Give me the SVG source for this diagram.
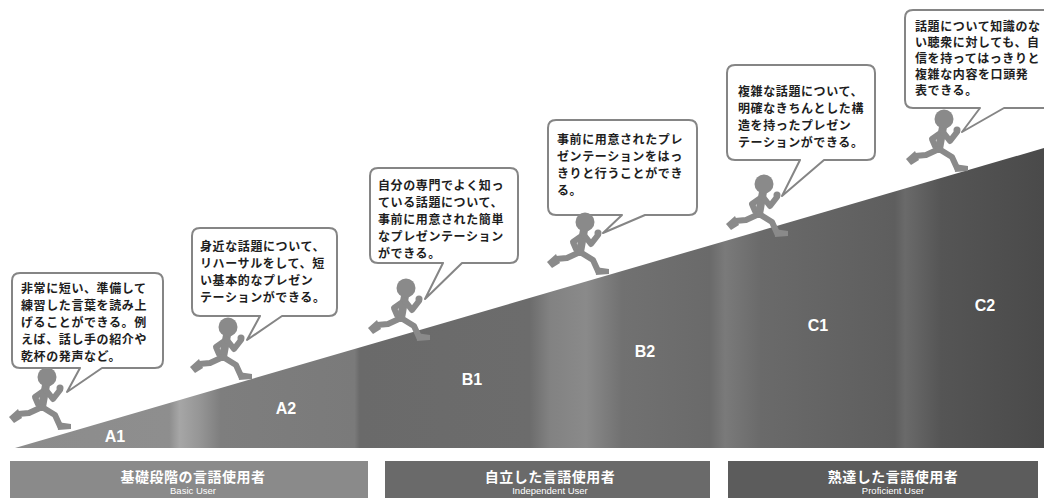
<svg xmlns="http://www.w3.org/2000/svg" xmlns:xlink="http://www.w3.org/1999/xlink" width="1044" height="498" viewBox="0 0 1044 498">
  <style>
    .bubble { fill: #ffffff; stroke: #858585; stroke-width: 2; stroke-linejoin: round; }
    .btxt { font-family: "Noto Sans CJK JP", "Noto Sans CJK SC", sans-serif; font-weight: bold; font-size: 12px; letter-spacing: 0.6px; fill: #1e1e1e; }
    .lvl { font-family: "Liberation Sans", Arial, sans-serif; font-weight: bold; font-size: 16px; fill: #ffffff; text-anchor: middle; }
    .barjp { font-family: "Noto Sans CJK JP", "Noto Sans CJK SC", sans-serif; font-weight: bold; font-size: 14px; fill: #ffffff; text-anchor: middle; letter-spacing: 0.5px; }
    .baren { font-family: "Liberation Sans", Arial, sans-serif; font-size: 9.5px; fill: #ffffff; text-anchor: middle; }
    .limb { fill: none; stroke: #8a8a8a; stroke-width: 6; stroke-linecap: round; stroke-linejoin: round; }
    .body { fill: #8a8a8a; }
  </style>
  <defs>
    <linearGradient id="rampFill" gradientUnits="userSpaceOnUse" x1="15" y1="0" x2="1044" y2="0">
      <stop offset="0" stop-color="#8c8c8c"/>
      <stop offset="0.15" stop-color="#8e8e8e"/>
      <stop offset="0.16" stop-color="#a6a6a6"/>
      <stop offset="0.18" stop-color="#959595"/>
      <stop offset="0.20" stop-color="#7e7e7e"/>
      <stop offset="0.33" stop-color="#7a7a7a"/>
      <stop offset="0.335" stop-color="#6a6a6a"/>
      <stop offset="0.50" stop-color="#6c6c6c"/>
      <stop offset="0.52" stop-color="#828282"/>
      <stop offset="0.555" stop-color="#8a8a8a"/>
      <stop offset="0.59" stop-color="#717171"/>
      <stop offset="0.675" stop-color="#6a6a6a"/>
      <stop offset="0.69" stop-color="#7a7a7a"/>
      <stop offset="0.725" stop-color="#6a6a6a"/>
      <stop offset="0.855" stop-color="#5e5e5e"/>
      <stop offset="0.865" stop-color="#6a6a6a"/>
      <stop offset="0.90" stop-color="#555555"/>
      <stop offset="1" stop-color="#4a4a4a"/>
    </linearGradient>
    <!-- running figure, origin at the centre of the head -->
    <g id="runner">
      <path class="limb" d="M-2,13 L-12,20 L-9,27"/>
      <path class="limb" d="M-5,30 L-18,36 L-29,37"/>
      <path class="body" d="M-29,32 L-38,40 L-33,46 L-25,41 Z"/>
      <path class="limb" style="stroke-width:8" d="M-1,8 L-5,30"/>
      <path class="limb" d="M-5,30 L8,38 L13,49"/>
      <path class="body" d="M10,45 L24,47 L24,52 L11,53 Z"/>
      <path class="limb" d="M-1,13 L6,22 L13,13"/>
      <circle class="body" cx="13" cy="11" r="3.5"/>
      <circle class="body" cx="0" cy="0" r="9.5"/>
    </g>
  </defs>

  <!-- rising slope with the six levels -->
  <g id="ramp">
    <polygon points="15,448 1044,148 1044,448" fill="url(#rampFill)"/>
    <text class="lvl" x="115" y="442">A1</text>
    <text class="lvl" x="286" y="414">A2</text>
    <text class="lvl" x="472" y="385">B1</text>
    <text class="lvl" x="645" y="357">B2</text>
    <text class="lvl" x="818" y="331">C1</text>
    <text class="lvl" x="985" y="311">C2</text>
  </g>

  <!-- user groups along the bottom -->
  <g id="bar-basic">
    <rect x="10" y="461" width="358" height="37" fill="#8a8a8a"/>
    <text class="barjp" x="193" y="482">基礎段階の言語使用者</text>
    <text class="baren" x="193" y="494">Basic User</text>
  </g>
  <g id="bar-independent">
    <rect x="385" y="461" width="325" height="37" fill="#6a6a6a"/>
    <text class="barjp" x="550" y="482">自立した言語使用者</text>
    <text class="baren" x="550" y="494">Independent User</text>
  </g>
  <g id="bar-proficient">
    <rect x="728" y="461" width="310" height="37" fill="#5c5c5c"/>
    <text class="barjp" x="893" y="482">熟達した言語使用者</text>
    <text class="baren" x="893" y="494">Proficient User</text>
  </g>

  <!-- speech bubble tails are part of each bubble outline -->
  <g id="connectors"></g>

  <g id="node-a1">
    <path class="bubble" d="M20,273 H155 Q163,273 163,281 V360 Q163,368 155,368 H102 L67,392 L80,368 H20 Q12,368 12,360 V281 Q12,273 20,273 Z"/>
    <text class="btxt">
      <tspan x="21" y="293">非常に短い、準備して</tspan>
      <tspan x="21" y="310">練習した言葉を読み上</tspan>
      <tspan x="21" y="327">げることができる。例</tspan>
      <tspan x="21" y="344">えば、話し手の紹介や</tspan>
      <tspan x="21" y="361">乾杯の発声など。</tspan>
    </text>
    <use xlink:href="#runner" href="#runner" x="47" y="377"/>
  </g>

  <g id="node-a2">
    <path class="bubble" d="M200,228 H329 Q337,228 337,236 V308 Q337,316 329,316 H282 L247,340 L260,316 H200 Q192,316 192,308 V236 Q192,228 200,228 Z"/>
    <text class="btxt">
      <tspan x="200" y="251">身近な話題について、</tspan>
      <tspan x="200" y="268">リハーサルをして、短</tspan>
      <tspan x="200" y="285">い基本的なプレゼン</tspan>
      <tspan x="200" y="302">テーションができる。</tspan>
    </text>
    <use xlink:href="#runner" href="#runner" x="228" y="327"/>
  </g>

  <g id="node-b1">
    <path class="bubble" d="M378,168 H510 Q518,168 518,176 V255 Q518,263 510,263 H462 L425,299 L443,263 H378 Q370,263 370,255 V176 Q370,168 378,168 Z"/>
    <text class="btxt">
      <tspan x="378" y="190">自分の専門でよく知っ</tspan>
      <tspan x="378" y="207">ている話題について、</tspan>
      <tspan x="378" y="224">事前に用意された簡単</tspan>
      <tspan x="378" y="241">なプレゼンテーション</tspan>
      <tspan x="378" y="258">ができる。</tspan>
    </text>
    <use xlink:href="#runner" href="#runner" x="406" y="288"/>
  </g>

  <g id="node-b2">
    <path class="bubble" d="M556,120 H689 Q697,120 697,128 V207 Q697,215 689,215 H645 L603,233 L622,215 H556 Q548,215 548,207 V128 Q548,120 556,120 Z"/>
    <text class="btxt">
      <tspan x="557" y="144">事前に用意されたプレ</tspan>
      <tspan x="557" y="161">ゼンテーションをはっ</tspan>
      <tspan x="557" y="178">きりと行うことができ</tspan>
      <tspan x="557" y="195">る。</tspan>
    </text>
    <use xlink:href="#runner" href="#runner" x="585" y="222"/>
  </g>

  <g id="node-c1">
    <path class="bubble" d="M735,65 H867 Q875,65 875,73 V152 Q875,160 867,160 H824 L782,196 L800,160 H735 Q727,160 727,152 V73 Q727,65 735,65 Z"/>
    <text class="btxt">
      <tspan x="738" y="96">複雑な話題について、</tspan>
      <tspan x="738" y="113">明確なきちんとした構</tspan>
      <tspan x="738" y="130">造を持ったプレゼン</tspan>
      <tspan x="738" y="147">テーションができる。</tspan>
    </text>
    <use xlink:href="#runner" href="#runner" x="764" y="184"/>
  </g>

  <g id="node-c2">
    <path class="bubble" d="M913,10 H1052 Q1060,10 1060,18 V100 Q1060,108 1052,108 H1004 L962,132 L980,108 H913 Q905,108 905,100 V18 Q905,10 913,10 Z"/>
    <text class="btxt">
      <tspan x="915" y="31">話題について知識のな</tspan>
      <tspan x="915" y="47">い聴衆に対しても、自</tspan>
      <tspan x="915" y="63">信を持ってはっきりと</tspan>
      <tspan x="915" y="79">複雑な内容を口頭発</tspan>
      <tspan x="915" y="95">表できる。</tspan>
    </text>
    <use xlink:href="#runner" href="#runner" x="944" y="119"/>
  </g>
</svg>
